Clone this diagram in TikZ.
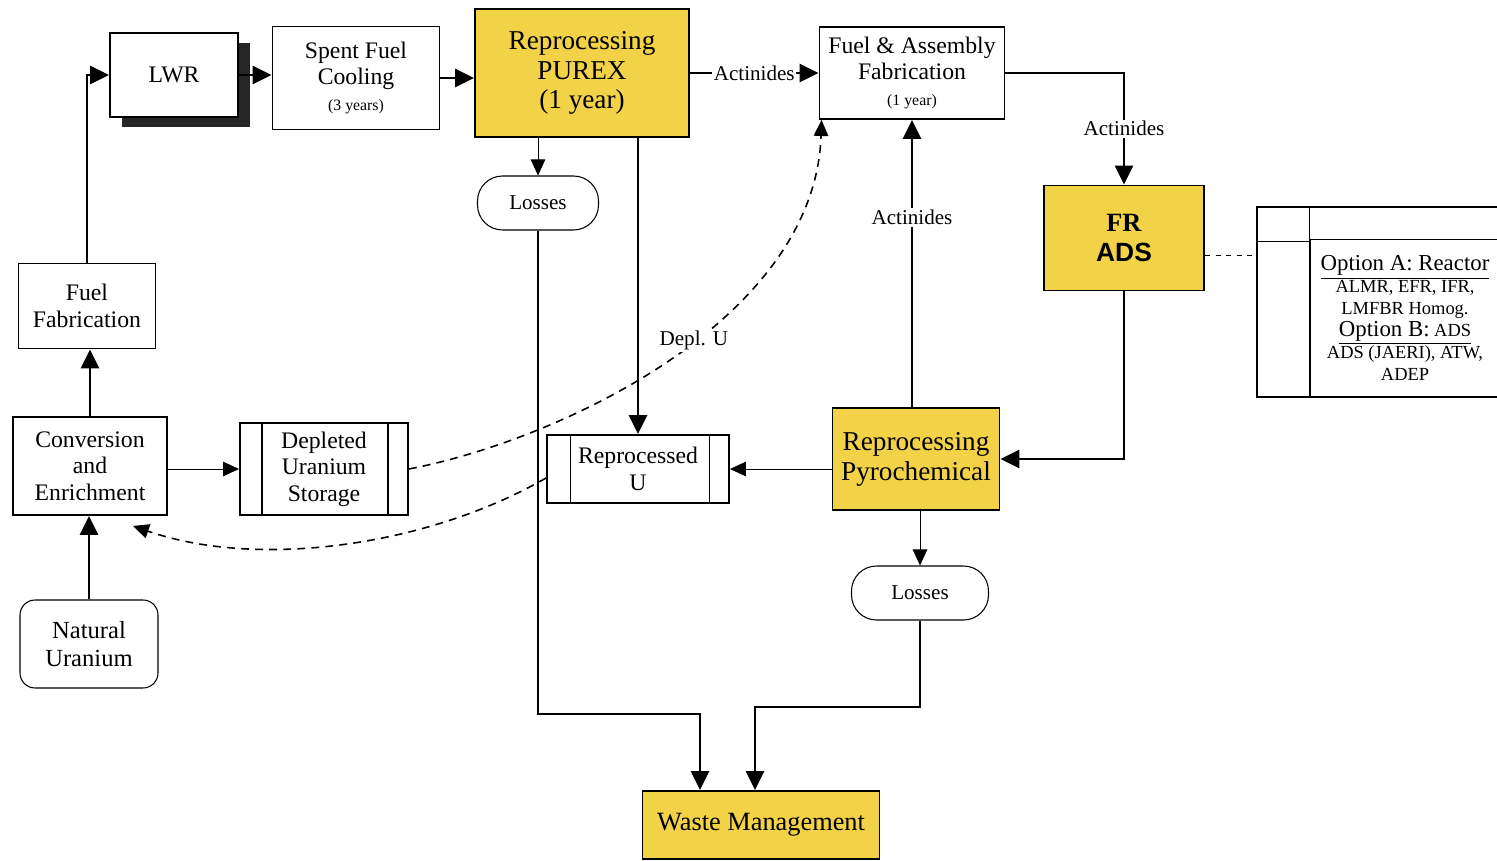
\documentclass[tikz,border=0pt]{standalone}
\usepackage{fontspec}
\setmainfont{Liberation Serif}
\setsansfont{Liberation Sans}
\usepackage{tikz}
\usetikzlibrary{shapes,arrows.meta,positioning,calc,shadows}
\definecolor{procyellow}{RGB}{242,211,72}

\tikzset{
  box/.style={draw, line width=1.1pt, align=center, inner sep=2pt, font=\fontsize{13.5}{15}\selectfont},
  ybox/.style={box, fill=procyellow, font=\fontsize{15.5}{17}\selectfont},
  pill/.style={draw, line width=0.6pt, rounded corners=0.5cm, align=center, font=\fontsize{12}{14}\selectfont},
  flow/.style={line width=1.5pt, -{Triangle[length=0.38cm,width=0.36cm]}},
  thinflow/.style={line width=0.5pt, -{Triangle[length=0.32cm,width=0.29cm]}},
  deplflow/.style={line width=0.9pt, dash pattern=on 4.5pt off 3.5pt, -{Triangle[length=0.32cm,width=0.29cm]}},
  lbl/.style={fill=white, inner sep=1pt, font=\fontsize{12}{14}\selectfont},
}

\begin{document}
\begin{tikzpicture}[x=0.02cm, y=-0.02cm]
  \useasboundingbox (0,0) rectangle (1497,861);

  % main chain
  \node[box, fill=white, minimum width=2.56cm, minimum height=1.68cm,
        drop shadow={shadow xshift=0.24cm, shadow yshift=-0.2cm, opacity=1, fill=black!85}] (lwr) at (174,75) {LWR};
  \node[box, minimum width=3.34cm, minimum height=2.06cm] (spent) at (356,78) {Spent Fuel\\Cooling\\{\fontsize{9}{11}\selectfont (3 years)}};
  \node[ybox, minimum width=4.28cm, minimum height=2.56cm] (purex) at (582,73) {Reprocessing\\PUREX\\(1 year)};
  \node[box, minimum width=3.7cm, minimum height=1.84cm] (fasm) at (912,73) {Fuel \& Assembly\\Fabrication\\{\fontsize{9}{11}\selectfont (1 year)}};
  \node[box, fill=procyellow, minimum width=3.2cm, minimum height=2.1cm, font=\fontsize{15}{17}\selectfont] (fr) at (1124,238) {\textbf{FR}\\\textsf{\textbf{ADS}}};
  \node[pill, minimum width=2.42cm, minimum height=1.08cm] (loss1) at (538,203) {Losses};

  % front end
  \node[box, minimum width=2.74cm, minimum height=1.7cm] (fuelfab) at (87,306) {Fuel\\Fabrication};
  \node[box, minimum width=3.08cm, minimum height=1.96cm] (conv) at (90,466) {Conversion\\and\\Enrichment};
  \node[box, line width=0.6pt, rounded corners=0.3cm, minimum width=2.76cm, minimum height=1.76cm, font=\fontsize{14}{16}\selectfont] (natu) at (89,644) {Natural\\Uranium};
  \node[box, minimum width=3.36cm, minimum height=1.84cm] (depl) at (324,469) {Depleted\\Uranium\\Storage};
  \draw[line width=1.1pt] ([xshift=0.46cm]depl.north west) -- ([xshift=0.46cm]depl.south west);
  \draw[line width=1.1pt] ([xshift=-0.42cm]depl.north east) -- ([xshift=-0.42cm]depl.south east);

  % back end
  \node[box, minimum width=3.64cm, minimum height=1.36cm] (repu) at (638,469) {Reprocessed\\U};
  \draw[line width=0.5pt] ([xshift=0.48cm]repu.north west) -- ([xshift=0.48cm]repu.south west);
  \draw[line width=0.5pt] ([xshift=-0.42cm]repu.north east) -- ([xshift=-0.42cm]repu.south east);
  \node[ybox, minimum width=3.34cm, minimum height=2.04cm] (pyro) at (916,459) {Reprocessing\\Pyrochemical};
  \node[pill, minimum width=2.74cm, minimum height=1.08cm] (loss2) at (920,593) {Losses};
  \node[ybox, minimum width=4.74cm, minimum height=1.36cm, font=\fontsize{15}{17}\selectfont] (waste) at (761,825) {Waste Management};

  % options
  \node[draw, line width=1.1pt, minimum width=4.86cm, minimum height=3.8cm] (optframe) at (1378,302) {};
  \node[draw, line width=1.1pt, minimum width=3.8cm, minimum height=3.14cm, align=center, font=\fontsize{10.5}{12.5}\selectfont] (opts) at (1405,318) {%
    {\fontsize{13}{14}\selectfont\underline{Option A: Reactor}}\\
    ALMR, EFR, IFR,\\
    LMFBR Homog.\\
    \underline{{\fontsize{13}{14}\selectfont Option B:} ADS}\\
    ADS (JAERI), ATW,\\
    ADEP};
  \draw[line width=0.6pt] (opts.north west) -- (opts.north west |- optframe.north);
  \draw[line width=0.5pt] ([yshift=-0.06cm]optframe.west |- opts.north) -- ([yshift=-0.06cm]opts.north west);

  \coordinate (wjoin1) at (540,714);
  \coordinate (wjoin2) at (920,707);

  % connectors
  \draw[flow] (fuelfab.north) |- (lwr.west);
  \draw[flow] (lwr.east) -- (lwr.east -| spent.west);
  \draw[flow] (spent.east) -- (spent.east -| purex.west);
  \draw[flow] (purex.east) -- node[lbl] {Actinides} (fasm.west);
  \draw[flow] (fasm.east) -| node[lbl, pos=0.75] {Actinides} (fr.north);
  \draw[dashed, line width=0.5pt] ([yshift=-0.34cm]fr.east) -- ([yshift=-0.34cm]fr.east -| optframe.west);
  \draw[thinflow] (loss1.north |- purex.south) -- (loss1.north);
  \draw[flow] (repu.north |- purex.south) -- (repu.north);
  \draw[flow] (loss1.south) -- (loss1.south |- wjoin1) -| ([xshift=-1.22cm]waste.north);
  \draw[flow] (loss2.south) -- (loss2.south |- wjoin2) -| ([xshift=-0.12cm]waste.north);
  \draw[thinflow] (loss2.north |- pyro.south) -- (loss2.north);
  \draw[flow] (fr.south) |- (pyro.east);
  \draw[flow] (fasm.south |- pyro.north) -- node[lbl, pos=0.66] {Actinides} (fasm.south);
  \draw[thinflow] (pyro.west |- repu.east) -- (repu.east);
  \draw[thinflow] (conv.east |- depl.west) -- (depl.west);
  \draw[flow] (natu.north) -- (natu.north |- conv.south);
  \draw[flow] (conv.north) -- (conv.north |- fuelfab.south);

  % depleted uranium recycle
  \draw[deplflow] (depl.east) .. controls (560,440) and (815,320) .. ([xshift=0.06cm]fasm.south west)
    node[lbl, pos=0.55] {Depl. U};
  \draw[deplflow] ([yshift=-0.18cm]repu.west) .. controls (430,545) and (260,570) .. ([xshift=-0.7cm,yshift=-0.2cm]conv.south east);
\end{tikzpicture}
\end{document}
